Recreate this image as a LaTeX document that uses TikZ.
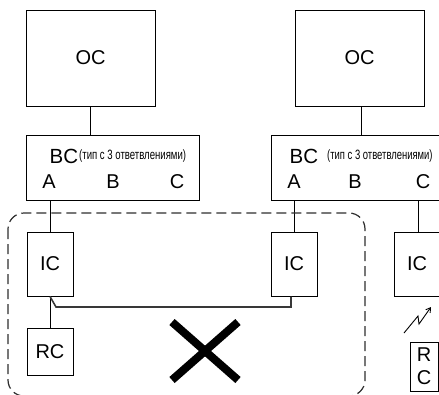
\documentclass[tikz,border=0pt]{standalone}
\usepackage{fontspec}
\setmainfont{Liberation Sans}
\usetikzlibrary{arrows.meta}
\tikzset{
  box/.style={draw, line width=1pt, inner sep=0pt, font=\fontsize{20}{22}\selectfont},
  lbl/.style={inner sep=0pt, font=\fontsize{20}{22}\selectfont},
  small/.style={inner sep=0pt, anchor=west, font=\fontsize{13.5}{15}\selectfont},
  wire/.style={line width=1pt},
  graywire/.style={line width=1.6pt, black!78},
  group/.style={draw=black!82, line width=1.2pt, dash pattern=on 10pt off 5pt, rounded corners=16pt},
  cross/.style={line width=8pt, line cap=butt},
}
\begin{document}
\begin{tikzpicture}[x=1pt,y=-1pt]
\useasboundingbox (0,0) rectangle (439,394);
\clip (0,0) rectangle (439,394);
% OC boxes
\node[box, minimum width=129pt, minimum height=96pt] (oc1) at (90.5,58) {OC};
\node[box, minimum width=129pt, minimum height=96pt] (oc2) at (359.5,58) {OC};
% BC boxes
\node[box, minimum width=173pt, minimum height=65pt] (bc1) at (112.5,167.5) {};
\node[box, minimum width=173pt, minimum height=65pt] (bc2) at (357.5,167.5) {};
\node[lbl, anchor=west, font=\fontsize{20.5}{22}\selectfont] (bct1) at (49.5,156) {BC};
\node[small] (sm1) at (79,156) {\scalebox{0.71}[1]{(тип с 3 ответвлениями)}};
\node[lbl] (a1) at (49,182) {A};
\node[lbl] (b1) at (113,182) {B};
\node[lbl] (c1) at (177,182) {C};
\node[lbl, anchor=west, font=\fontsize{20.5}{22}\selectfont] (bct2) at (289.5,156) {BC};
\node[small] (sm2) at (327,156) {\scalebox{0.70}[1]{(тип с 3 ответвлениями)}};
\node[lbl] (a2) at (294,182) {A};
\node[lbl] (b2) at (355,182) {B};
\node[lbl] (c2) at (423,182) {C};
% IC boxes
\node[box, minimum width=46pt, minimum height=64pt] (ic1) at (50,264) {IC};
\node[box, minimum width=46pt, minimum height=64pt] (ic2) at (294,264) {IC};
\node[box, minimum width=46pt, minimum height=64pt] (ic3) at (417,264) {IC};
% RC boxes
\node[box, minimum width=46pt, minimum height=47pt] (rc1) at (50,351.5) {RC};
\node[box, minimum width=28pt, minimum height=49pt, align=center, font=\fontsize{20}{23}\selectfont] (rc2) at (424,366.5) {R\\C};
% connectors
\draw[wire] (oc1.south) -- (oc1.south |- bc1.north);
\draw[wire] ([xshift=1.5pt]oc2.south) -- ([xshift=1.5pt]oc2.south |- bc2.north);
\draw[wire] (ic1.north |- bc1.south) -- (ic1.north);
\draw[wire] (ic2.north |- bc2.south) -- (ic2.north);
\draw[wire] ([xshift=1pt]ic3.north |- bc2.south) -- ([xshift=1pt]ic3.north);
\draw[wire] (ic1.south) -- (rc1.north);
\coordinate (k1) at (56,307);
\draw[graywire] (ic1.south) -- (k1) -- ([xshift=-3pt]ic2.south |- k1) -- ([xshift=-3pt]ic2.south);
% dashed group
\draw[group] (8,213) rectangle (365,396);
% cross
\coordinate (x1) at (172,322);
\coordinate (x2) at (238,380);
\coordinate (x3) at (238,322);
\coordinate (x4) at (172,380);
\draw[cross] (x1) -- (x2);
\draw[cross] (x3) -- (x4);
% radio link
\coordinate (z1) at (404,333);
\coordinate (z2) at (418,316);
\coordinate (z3) at (419,324);
\coordinate (z4) at (431,307);
\draw[line width=0.9pt, -{Straight Barb[length=4.5pt,width=5.5pt]}] (z1) -- (z2) -- (z3) -- (z4);
\end{tikzpicture}
\end{document}
